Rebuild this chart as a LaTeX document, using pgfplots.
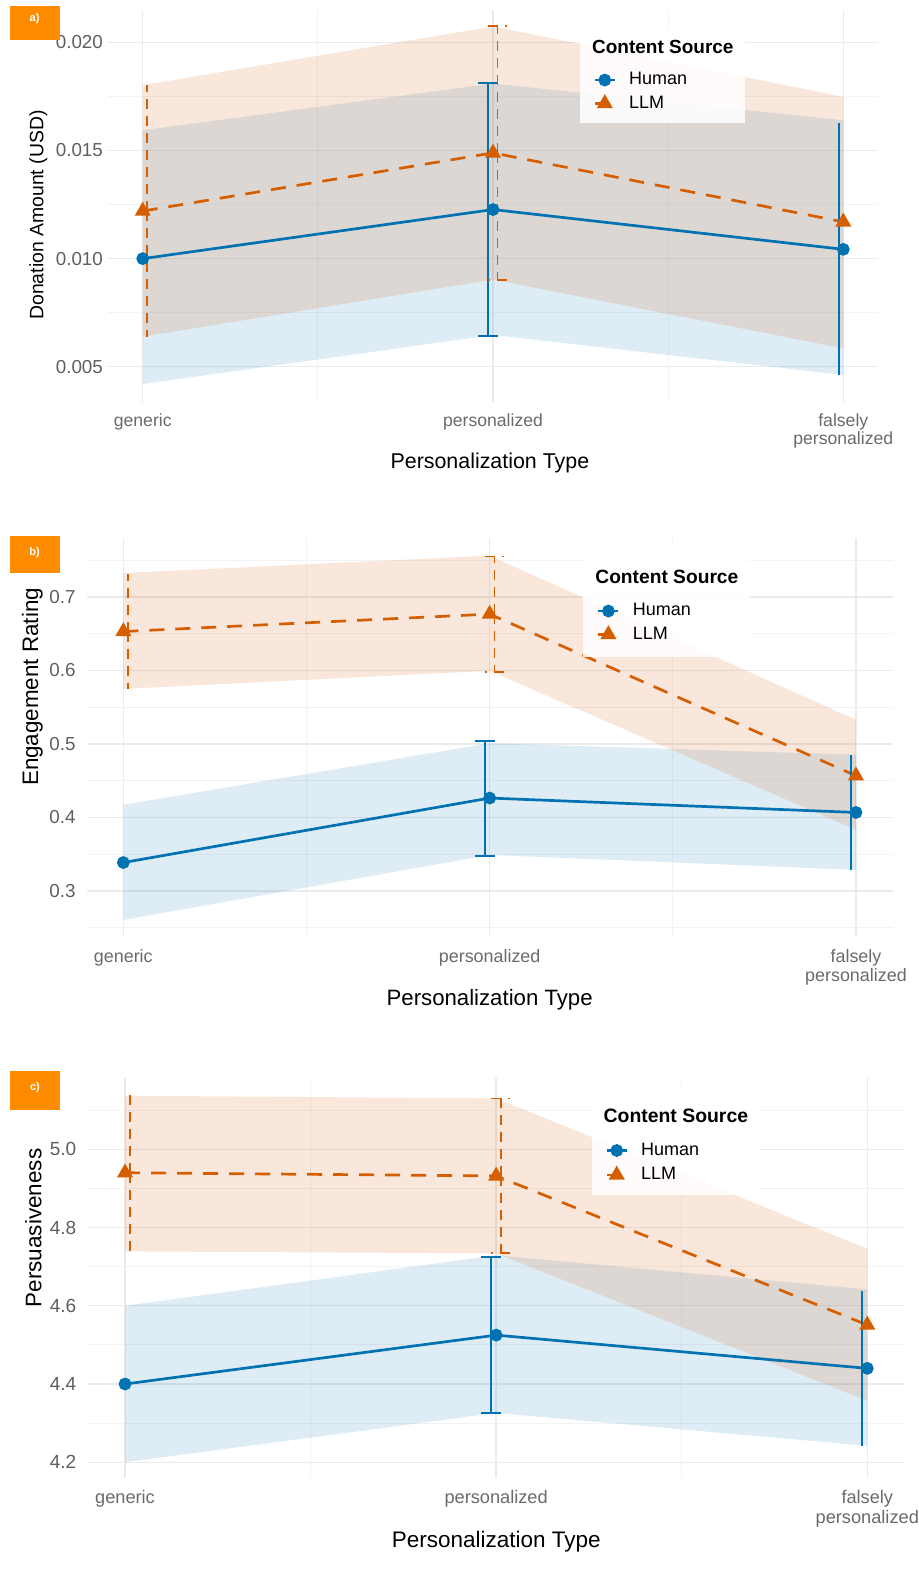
\documentclass[border=0pt]{standalone}
\usepackage{fontspec}
\setmainfont{Liberation Sans}
\usepackage{pgfplots}
\pgfplotsset{compat=1.18}
\definecolor{hblue}{HTML}{0072B2}
\definecolor{lorange}{HTML}{D55E00}
\definecolor{lribbon}{RGB}{213,94,20}
\definecolor{boxorange}{HTML}{FF8C00}
\definecolor{tickgray}{HTML}{5E5E5E}
\definecolor{xtickgray}{HTML}{6A6A6A}
\definecolor{gridmaj}{HTML}{EBEBEB}
\definecolor{gridmin}{HTML}{F3F3F3}

\pgfplotsset{
 panel/.style={
  scale only axis, anchor=south west,
  xmin=-0.1, xmax=2.1,
  xtick={0,1,2}, minor xtick={0.5,1.5},
  xticklabels={generic,personalized,{falsely\\personalized}},
  grid=both,
  major grid style={gridmaj, line width=0.7pt},
  minor grid style={gridmin, line width=0.5pt},
  axis line style={draw=none},
  major tick length=0pt, minor tick length=0pt,
  tick style={draw=none},
  scaled ticks=false,
  xlabel={Personalization Type},
  legend image code/.code={\draw[mark repeat=2,mark phase=2,##1] plot coordinates {(0pt,0pt)(5pt,0pt)(10pt,0pt)};},
  legend style={draw=none, fill=none, inner sep=0pt, anchor=west, column sep=6.5pt, row sep=4pt,
    nodes={inner sep=0pt}, font=\fontsize{9}{10}\selectfont},
  legend cell align=left,
 },
 hline/.style={hblue, line width=1.35pt, mark=*, mark size=2.5pt, mark options={solid}},
 lline/.style={lorange, line width=1.35pt, dash pattern=on 7.5pt off 5.5pt, mark=triangle*, mark size=3.3pt, mark options={solid}},
 hrib/.style={forget plot, draw=none, fill=hblue, fill opacity=0.13},
 lrib/.style={forget plot, draw=none, fill=lribbon, fill opacity=0.15},
 herr/.style={forget plot, draw=none, mark=none,
   error bars/y dir=both, error bars/y explicit,
   error bars/error bar style={draw=hblue, solid, line width=1pt},
   error bars/error mark=-,
   error bars/error mark options={draw=hblue, solid, line width=1pt, mark size=5pt, rotate=90}},
 herrnc/.style={forget plot, draw=none, mark=none,
   error bars/y dir=both, error bars/y explicit,
   error bars/error bar style={draw=hblue, solid, line width=1pt},
   error bars/error mark=none},
 lerr/.style={forget plot, draw=none, mark=none,
   error bars/y dir=both, error bars/y explicit,
   error bars/error bar style={draw=lorange, line width=0.9pt, dash pattern=on 5pt off 3.5pt},
   error bars/error mark=-,
   error bars/error mark options={draw=lorange, line width=0.9pt, mark size=4.75pt, rotate=90, dash pattern=on 5pt off 3.5pt}},
 lerrnc/.style={forget plot, draw=none, mark=none,
   error bars/y dir=both, error bars/y explicit,
   error bars/error bar style={draw=lorange, line width=0.9pt, dash pattern=on 5pt off 3.5pt},
   error bars/error mark=none},
}

\begin{document}
\begin{tikzpicture}
\useasboundingbox (0,0) rectangle (459.5pt,788.5pt);

% ---------------- panel a ----------------
\begin{axis}[panel,
  at={(53.85pt,587.5pt)}, width=385.3pt, height=196pt,
  ymin=0.00337, ymax=0.0215,
  ytick={0.005,0.010,0.015,0.020}, minor ytick={0.0075,0.0125,0.0175},
  yticklabel style={anchor=east, inner sep=0pt, xshift=-2.2pt, text=tickgray,
    font=\fontsize{9.4}{10}\selectfont,
    /pgf/number format/.cd, fixed, fixed zerofill, precision=3, assume math mode=true},
  xticklabel style={anchor=north, inner sep=0pt, yshift=-5.5pt, align=center, text=xtickgray,
    font=\fontsize{8.8}{9.4}\selectfont},
  ylabel={Donation Amount (USD)},
  xlabel style={at={(axis description cs:0.496,-0.156)}, anchor=center, font=\fontsize{10.7}{12}\selectfont},
  ylabel style={at={(axis description cs:-0.0901,0.477)}, anchor=center, font=\fontsize{9.7}{11}\selectfont},
  legend style={at={(axis description cs:0.6298,0.7914)}},
]
\addplot[hrib] coordinates {(0,0.01594)(1,0.0181)(2,0.0164)(2,0.00462)(1,0.00647)(0,0.0042)} --cycle;
\addplot[lrib] coordinates {(0,0.01802)(1,0.02074)(2,0.01748)(2,0.00585)(1,0.00903)(0,0.00639)} --cycle;
\addplot[hline] coordinates {(0,0.0100)(1,0.01227)(2,0.01043)};
\addlegendentry{Human}
\addplot[lline] coordinates {(0,0.0122)(1,0.01489)(2,0.0117)};
\addlegendentry{LLM}
\addplot[herr] coordinates {(0.987,0.01227) +- (0,0.00583)};
\addplot[herrnc] coordinates {(1.987,0.01043) +- (0,0.00583)};
\addplot[lerrnc] coordinates {(0.013,0.0122) +- (0,0.00582)};
\addplot[lerr] coordinates {(1.013,0.01489) +- (0,0.00587)};
\fill[white, fill opacity=0.88] (axis description cs:0.6129,0.711) rectangle (axis description cs:0.8271,0.954);
\node[anchor=west, inner sep=0pt, font=\bfseries\fontsize{9.5}{11}\selectfont] at (axis description cs:0.6281,0.9064) {Content Source};
\end{axis}

% ---------------- panel b ----------------
\begin{axis}[panel,
  at={(43.35pt,320.15pt)}, width=402.95pt, height=199.2pt,
  ymin=0.2377, ymax=0.780,
  ytick={0.3,0.4,0.5,0.6,0.7}, minor ytick={0.25,0.35,0.45,0.55,0.65,0.75},
  yticklabel style={anchor=east, inner sep=0pt, xshift=-5.35pt, text=tickgray,
    font=\fontsize{9.4}{10}\selectfont,
    /pgf/number format/.cd, fixed, fixed zerofill, precision=1, assume math mode=true},
  xticklabel style={anchor=north, inner sep=0pt, yshift=-6pt, align=center, text=xtickgray,
    font=\fontsize{8.95}{9.6}\selectfont},
  ylabel={Engagement Rating},
  xlabel style={at={(axis description cs:0.5,-0.159)}, anchor=center, font=\fontsize{11.1}{12}\selectfont},
  ylabel style={at={(axis description cs:-0.0675,0.627)}, anchor=center, font=\fontsize{11.2}{12}\selectfont},
  legend style={at={(axis description cs:0.6328,0.788)}, row sep=4pt},
]
\addplot[hrib] coordinates {(0,0.4173)(1,0.501)(2,0.4854)(2,0.3286)(1,0.349)(0,0.2605)} --cycle;
\addplot[lrib] coordinates {(0,0.7327)(1,0.7563)(2,0.533)(2,0.3832)(1,0.5996)(0,0.575)} --cycle;
\addplot[hline] coordinates {(0,0.3386)(1,0.4264)(2,0.4068)};
\addlegendentry{Human}
\addplot[lline] coordinates {(0,0.6531)(1,0.6768)(2,0.4568)};
\addlegendentry{LLM}
\addplot[herr] coordinates {(0.987,0.4264) +- (0,0.0783)};
\addplot[herrnc] coordinates {(1.987,0.4068) +- (0,0.0777)};
\addplot[lerrnc] coordinates {(0.013,0.6531) +- (0,0.0789)};
\addplot[lerr] coordinates {(1.013,0.6768) +- (0,0.0784)};
\fill[white, fill opacity=0.88] (axis description cs:0.6158,0.7028) rectangle (axis description cs:0.8230,0.9832);
\node[anchor=west, inner sep=0pt, font=\bfseries\fontsize{9.6}{11}\selectfont] at (axis description cs:0.6307,0.9021) {Content Source};
\end{axis}

% ---------------- panel c ----------------
\begin{axis}[panel,
  at={(43.95pt,49.35pt)}, width=408.25pt, height=200pt,
  ymin=4.159, ymax=5.1815,
  ytick={4.2,4.4,4.6,4.8,5.0}, minor ytick={4.3,4.5,4.7,4.9,5.1},
  yticklabel style={anchor=east, inner sep=0pt, xshift=-5.6pt, text=tickgray,
    font=\fontsize{9.5}{10}\selectfont,
    /pgf/number format/.cd, fixed, fixed zerofill, precision=1, assume math mode=true},
  xticklabel style={anchor=north, inner sep=0pt, yshift=-6pt, align=center, text=xtickgray,
    font=\fontsize{9.1}{9.7}\selectfont},
  ylabel={Persuasiveness},
  xlabel style={at={(axis description cs:0.5001,-0.1585)}, anchor=center, font=\fontsize{11.25}{12}\selectfont},
  ylabel style={at={(axis description cs:-0.0669,0.626)}, anchor=center, font=\fontsize{11.25}{12}\selectfont},
  legend style={at={(axis description cs:0.6333,0.789)}, row sep=4.5pt},
]
\addplot[hrib] coordinates {(0,4.6)(1,4.729)(2,4.642)(2,4.242)(1,4.326)(0,4.2)} --cycle;
\addplot[lrib] coordinates {(0,5.137)(1,5.130)(2,4.746)(2,4.357)(1,4.734)(0,4.739)} --cycle;
\addplot[hline] coordinates {(0,4.40)(1,4.525)(2,4.44)};
\addlegendentry{Human}
\addplot[lline] coordinates {(0,4.940)(1,4.932)(2,4.551)};
\addlegendentry{LLM}
\addplot[herr] coordinates {(0.987,4.525) +- (0,0.2)};
\addplot[herrnc] coordinates {(1.987,4.44) +- (0,0.199)};
\addplot[lerrnc] coordinates {(0.013,4.94) +- (0,0.199)};
\addplot[lerr] coordinates {(1.013,4.932) +- (0,0.198)};
\fill[white, fill opacity=0.88] (axis description cs:0.6170,0.70825) rectangle (axis description cs:0.8231,0.9758);
\node[anchor=west, inner sep=0pt, font=\bfseries\fontsize{9.7}{11}\selectfont] at (axis description cs:0.6312,0.9058) {Content Source};
\end{axis}

% panel tags
\node[fill=boxorange, minimum width=24.65pt, minimum height=17pt, inner sep=0pt, anchor=south west] at (5pt,768.5pt) {};
\node[text=white, inner sep=0pt, font=\bfseries\fontsize{5.5}{6}\selectfont] at (17.3pt,779.35pt) {a)};
\node[fill=boxorange, minimum width=24.65pt, minimum height=18.65pt, inner sep=0pt, anchor=south west] at (5pt,501.85pt) {};
\node[text=white, inner sep=0pt, font=\bfseries\fontsize{5.5}{6}\selectfont] at (17.3pt,512.35pt) {b)};
\node[fill=boxorange, minimum width=25pt, minimum height=19.15pt, inner sep=0pt, anchor=south west] at (5pt,233.5pt) {};
\node[text=white, inner sep=0pt, font=\bfseries\fontsize{5.5}{6}\selectfont] at (17.5pt,244.65pt) {c)};
\end{tikzpicture}
\end{document}
